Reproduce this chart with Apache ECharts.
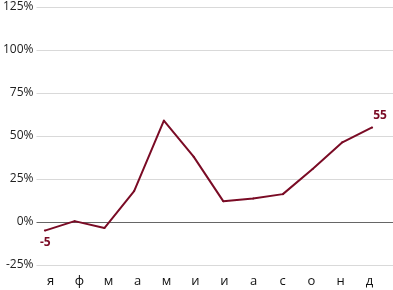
<!DOCTYPE html>
<html><head><meta charset="utf-8">
<script src="https://cdn.jsdelivr.net/npm/echarts@6/dist/echarts.min.js"></script>
<style>html,body{margin:0;padding:0;background:#fff}#c{width:393px;height:290px}</style>
</head><body><div id="c"></div>
<script>
const categories = ['я','ф','м','а','м','и','и','а','с','о','н','д'];
const values = [-5, 0.5, -3.5, 18, 59, 38, 12, 13.6, 16.2, 30.8, 46.3, 55];
const yTicks = [-25, 0, 25, 50, 75, 100, 125];

const font = 'Open Sans';
const lineColor = '#7a0b25';
const data = values.map((v, i) => {
  if (i === 0) return {value: v, label: {show: true, position: [-4, 7]}};
  if (i === values.length - 1) return {value: v, label: {show: true, position: [2, -17]}};
  return {value: v, label: {show: false}};
});
const yMin = yTicks[0], yMax = yTicks[yTicks.length - 1];
const chart = echarts.init(document.getElementById('c'), null, {renderer: 'canvas'});
chart.setOption({
  animation: false,
  grid: [
    {left: 33, right: 0, top: 7, bottom: 25, containLabel: false},
    {left: 36, right: 9, top: 7, bottom: 25, containLabel: false},
    {left: 30, right: 6, top: 7, bottom: 25, containLabel: false}
  ],
  xAxis: [{
    type: 'category', data: categories, gridIndex: 0, show: false
  }, {
    type: 'category', data: categories, boundaryGap: true, gridIndex: 1,
    axisLine: {show: false}, axisTick: {show: false},
    axisLabel: {color: '#111', fontFamily: font, fontSize: 13, margin: 10}
  }, {
    type: 'category', data: categories, boundaryGap: true, gridIndex: 2, show: false
  }],
  yAxis: [{
    type: 'value', min: yMin, max: yMax, interval: 25, gridIndex: 0,
    axisLine: {show: false}, axisTick: {show: false},
    axisLabel: {color: '#222', fontFamily: font, fontSize: 12, margin: 3, formatter: '{value}%'},
    splitLine: {lineStyle: {color: ['#d9d9d9', '#666666', '#d9d9d9', '#d9d9d9', '#d9d9d9', '#d9d9d9', '#d9d9d9'], width: 1}}
  }, {
    type: 'value', min: yMin, max: yMax, interval: 25, gridIndex: 1, show: false
  }, {
    type: 'value', min: yMin, max: yMax, interval: 25, gridIndex: 2, show: false
  }],
  series: [{
    type: 'line', data: data, showSymbol: true, symbol: 'circle', symbolSize: 2,
    xAxisIndex: 2, yAxisIndex: 2,
    itemStyle: {color: lineColor},
    lineStyle: {color: lineColor, width: 2},
    label: {color: lineColor, fontFamily: font, fontSize: 12, fontWeight: 'bold'},
    labelLayout: {hideOverlap: false}
  }]
});
</script></body></html>
